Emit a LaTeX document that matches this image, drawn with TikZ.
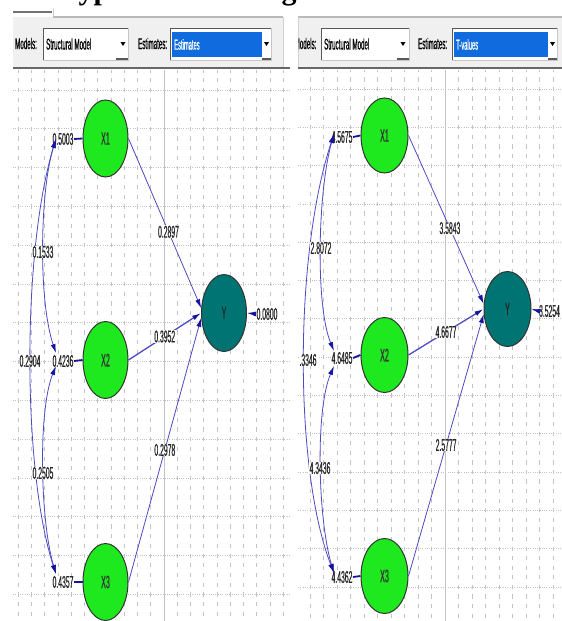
\documentclass[tikz,border=0pt]{standalone}
\usepackage{fontspec}
\setmainfont{Liberation Serif}
\newfontfamily\condfont[FakeStretch=0.4,FakeBold=0.5]{Liberation Sans}
\usetikzlibrary{arrows.meta,shapes.geometric}

\definecolor{nodegreen}{RGB}{30,232,30}
\definecolor{nodeteal}{RGB}{0,115,115}
\definecolor{pathblue}{RGB}{75,75,195}
\definecolor{headblue}{RGB}{20,20,160}
\definecolor{selblue}{RGB}{16,108,222}
\definecolor{barbg}{RGB}{240,240,240}
\definecolor{gridgray}{RGB}{195,195,195}

\begin{document}
\begin{tikzpicture}[x=1pt,y=-1pt,
  cond/.style={font={\condfont\fontsize{#1}{#1}\selectfont}},
  latent/.style={ellipse, draw=black!80, line width=1pt, minimum width=45pt,
    minimum height=77pt, inner sep=0pt, cond=18, text=black!80},
  exo/.style={latent, fill=nodegreen},
  endo/.style={latent, fill=nodeteal, text=black!85},
  lbl/.style={cond=17, fill=white, inner sep=0.4pt, text=black!85},
  vlbl/.style={lbl, anchor=east},
  elbl/.style={lbl, anchor=west},
  pth/.style={draw=pathblue, line width=0.8pt, -{Latex[length=9pt,width=5pt,color=headblue]}},
  cov/.style={draw=pathblue, line width=0.8pt,
    {Latex[length=9pt,width=5pt,color=headblue]}-{Latex[length=9pt,width=5pt,color=headblue]}},
  varl/.style={draw=headblue, line width=1.8pt},
  hgrid/.style={draw=gridgray, line width=0.7pt, dash pattern=on 1pt off 1.3pt},
  vgridL/.style={draw=gridgray, line width=0.7pt, dash pattern=on 4.2pt off 5.5pt, dash phase=1.5pt},
  vgridR/.style={draw=gridgray, line width=0.7pt, dash pattern=on 4.2pt off 5.375pt, dash phase=2.25pt},
  major/.style={draw=gridgray, line width=0.8pt},
  bartext/.style={cond=15.5, anchor=west, inner sep=0pt, text=black},
  seltext/.style={cond=14.5, anchor=west, inner sep=0pt, text=white},
  sunken/.style={draw=gray!45, line width=1pt, fill=white},
  edge dark/.style={draw=black!65, line width=1.5pt}
]
\useasboundingbox (0,0) rectangle (562,621);
\fill[white] (0,0) rectangle (562,621);
\clip (0,0) rectangle (562,621);

% heading, only its lower part lies on the page
\node[anchor=base west, inner sep=0pt, font={\bfseries\fontsize{30}{30}\selectfont}]
  (title) at (55,-1) {Hypothesis Testing};

% ---------------- left panel: grid ----------------
\foreach \k in {0,...,13}
  \draw[hgrid] (13,{90+38.8*\k}) -- (290,{90+38.8*\k});
\foreach \k in {0,...,20}
  \draw[vgridL] ({18.3+13.25*\k},70) -- ({18.3+13.25*\k},621);
\draw[major] (164,70) -- (164,621);

% ---------------- right panel: grid ----------------
\foreach \k in {0,...,13}
  \draw[hgrid] (298,{89+38.3*\k}) -- (562,{89+38.3*\k});
\foreach \k in {0,...,18}
  \draw[vgridR] ({310+13.5*\k},70) -- ({310+13.5*\k},621);
\draw[major] (445,70) -- (445,621);

% ---------------- left toolbar ----------------
\fill[barbg] (13,17) rectangle (283,67);
\draw[black!55, line width=2pt] (13,12) -- (52,12);
\draw[gray!40, line width=0.8pt] (53,9) -- (53,17);
\draw[gray!55, line width=1.2pt] (53,17) -- (283,17);
\draw[gray!35, line width=0.8pt] (283,17) -- (283,67);
\draw[black!60, line width=2pt] (13,68) -- (290,68);
\node[bartext] (modL) at (15,43.5) {Models:};
\draw[sunken] (43,28) rectangle (128,60);
\draw[edge dark] (43,28.5) -- (128,28.5);
\draw[edge dark] (43.5,28) -- (43.5,60);
\node[bartext] (modelL) at (46,44) {Structural Model};
\fill[black] (120.5,42) -- (125.5,42) -- (123,46) -- cycle;
\draw[edge dark] (116,59) -- (128,59);
\node[bartext] (estL) at (138,43.5) {Estimates:};
\draw[sunken] (170,28) rectangle (271,60);
\draw[edge dark] (170,28.5) -- (271,28.5);
\draw[edge dark] (170.5,28) -- (170.5,60);
\fill[selblue] (172,32) rectangle (262,57);
\node[seltext] (selL) at (174,44.5) {Estimates};
\fill[black] (264,42) -- (269,42) -- (266.5,46) -- cycle;
\draw[edge dark] (262,59) -- (271,59);

% ---------------- right toolbar ----------------
\fill[barbg] (298,17) rectangle (562,67);
\draw[gray!55, line width=1.2pt] (298,17) -- (562,17);
\draw[gray!35, line width=0.8pt] (298,17) -- (298,67);
\draw[black!60, line width=2pt] (298,68) -- (562,68);
\begin{scope}
  \clip (298.5,17) rectangle (562,67);
  \node[bartext] (modR) at (294.5,43.5) {Models:};
\end{scope}
\draw[sunken] (321,28) rectangle (409,60);
\draw[edge dark] (321,28.5) -- (409,28.5);
\draw[edge dark] (321.5,28) -- (321.5,60);
\node[bartext] (modelR) at (324,44) {Structural Model};
\fill[black] (400.5,42) -- (405.5,42) -- (403,46) -- cycle;
\draw[edge dark] (397,59) -- (409,59);
\node[bartext] (estR) at (418,43.5) {Estimates:};
\draw[sunken] (452,28) rectangle (557,60);
\draw[edge dark] (452,28.5) -- (557,28.5);
\draw[edge dark] (452.5,28) -- (452.5,60);
\fill[selblue] (454,32) rectangle (548,57);
\node[seltext] (selR) at (456,44.5) {T-values};
\fill[black] (550,42) -- (555,42) -- (552.5,46) -- cycle;
\draw[edge dark] (548,59) -- (557,59);

% ---------------- left diagram: estimates ----------------
\node[exo] (X1) at (105.5,138.5) {X1};
\node[exo] (X2) at (105.5,360) {X2};
\node[exo] (X3) at (105.5,582) {X3};
\node[endo] (Y) at (224,313) {Y};

\node[vlbl] (v1) at (74,139) {0.5003};
\node[vlbl] (v2) at (74,361) {0.4236};
\node[vlbl] (v3) at (74,582) {0.4357};
\draw[varl] (v1.east) -- (X1.west);
\draw[varl] (v2.east) -- (X2.west);
\draw[varl] (v3.east) -- (X3.west);

\draw[pth] (X1.east) -- node[lbl, pos=0.55] (p1) {0.2897} (Y.168);
\draw[pth, line width=1.3pt] (X2.east) -- node[lbl] (p2) {0.3952} (Y.180);
\draw[pth] (X3.east) -- node[lbl] (p3) {0.2978} (Y.192);

\node[elbl] (e1) at (256,314) {0.0800};
\draw[pth] (e1.west) -- (Y.east);

\coordinate (cA1) at (56,139);
\coordinate (cA2a) at (56,353);
\coordinate (cA2b) at (56,366);
\coordinate (cA3) at (56,574);
\draw[cov] (cA1) .. controls (40,190) and (38,300) .. (cA2a);
\draw[cov] (cA2b) .. controls (38,410) and (40,520) .. (cA3);
\draw[cov] (cA1) .. controls (22,250) and (22,470) .. (cA3);
\node[lbl] (k12) at (43,252) {0.1533};
\node[lbl] (k13) at (30,361) {0.2904};
\node[lbl] (k23) at (43,473) {0.2505};

% ---------------- right diagram: t-values ----------------
\node[exo, minimum width=47pt, minimum height=75pt] (T1) at (384.5,135.5) {X1};
\node[exo, minimum width=47pt, minimum height=75pt] (T2) at (384.5,355) {X2};
\node[exo, minimum width=47pt, minimum height=75pt] (T3) at (384.5,576) {X3};
\node[endo, minimum width=47pt, minimum height=75pt] (TY) at (507.5,309) {Y};

\node[vlbl] (w1) at (353,137) {4.5675};
\node[vlbl] (w2) at (353,358) {4.6485};
\node[vlbl] (w3) at (353,577) {4.4362};
\draw[varl] (w1.east) -- (T1.west);
\draw[varl] (w2.east) -- (T2.west);
\draw[varl] (w3.east) -- (T3.west);

\draw[pth] (T1.east) -- node[lbl, pos=0.55] (q1) {3.5843} (TY.168);
\draw[pth, line width=1.3pt] (T2.east) -- node[lbl] (q2) {4.6677} (TY.180);
\draw[pth] (T3.east) -- node[lbl] (q3) {2.5777} (TY.192);

\node[elbl] (e2) at (538.5,311) {3.5254};
\draw[pth] (e2.west) -- (TY.east);

\coordinate (cB1) at (334,134);
\coordinate (cB2a) at (334,351);
\coordinate (cB2b) at (334,366);
\coordinate (cB3) at (334,573);
\draw[cov] (cB1) .. controls (318,190) and (315,305) .. (cB2a);
\draw[cov] (cB2b) .. controls (315,410) and (318,520) .. (cB3);
\draw[cov] (cB1) .. controls (294,255) and (294,470) .. (cB3);
\node[lbl] (m12) at (321,248) {2.8072};
\node[lbl] (m13) at (308,360) {.3346};
\node[lbl] (m23) at (320,468) {4.3436};
\end{tikzpicture}
\end{document}
